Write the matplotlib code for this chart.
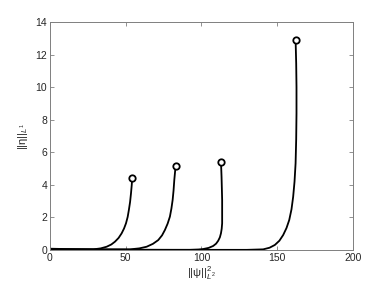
import matplotlib
matplotlib.use("Agg")
import matplotlib.pyplot as plt

plt.rcParams['font.family'] = ['Liberation Sans', 'DejaVu Sans']
plt.rcParams['mathtext.fontset'] = 'custom'
plt.rcParams['mathtext.rm'] = 'Liberation Sans'
plt.rcParams['mathtext.it'] = 'Liberation Sans:italic'

# curve data: (||psi||^2, ||eta||_L1)
c1_x = [0, 10, 20, 28.6, 33.5, 37.4, 40.5, 42.9, 45.3, 47.3, 48.9, 50.2, 51.3, 52.1, 52.9, 53.5, 54.0, 54.3]
c1_y = [0.08, 0.06, 0.05, 0.04, 0.1, 0.2, 0.34, 0.51, 0.74, 1.02, 1.32, 1.64, 2.03, 2.46, 2.95, 3.48, 4.0, 4.44]
c2_x = [0, 20, 40, 52.8, 59.0, 63.8, 68.0, 71.5, 74.0, 75.9, 77.7, 79.2, 80.2, 81.0, 81.6, 82.1, 82.6, 83.0]
c2_y = [0.05, 0.04, 0.04, 0.04, 0.1, 0.2, 0.38, 0.61, 0.9, 1.23, 1.62, 2.05, 2.55, 3.07, 3.65, 4.3, 4.8, 5.18]
c3_x = [0, 40, 80, 92.4, 98.0, 101.2, 104.8, 107.8, 109.7, 111.1, 112.2, 112.9, 113.4, 113.7, 113.7, 113.5, 113.3, 113.1, 112.9]
c3_y = [0.03, 0.02, 0.01, 0.01, 0.03, 0.06, 0.13, 0.25, 0.39, 0.57, 0.78, 1.02, 1.3, 1.64, 3.07, 3.8, 4.5, 5.0, 5.42]
c4_x = [0, 60, 110, 130, 140.8, 145.0, 148.5, 151.5, 154.0, 156.2, 158.0, 159.5, 160.6, 161.5, 162.2, 162.6, 162.8, 162.8, 162.6, 162.2]
c4_y = [0.02, 0.01, 0.01, 0.01, 0.04, 0.14, 0.31, 0.57, 0.92, 1.35, 1.84, 2.5, 3.27, 4.2, 5.32, 6.8, 8.39, 10.0, 11.46, 12.9]
curves = [(c1_x, c1_y), (c2_x, c2_y), (c3_x, c3_y), (c4_x, c4_y)]

xticks = [0, 50, 100, 150, 200]
yticks = [0, 2, 4, 6, 8, 10, 12, 14]

fig = plt.figure(figsize=(3.89, 2.92), dpi=100)
ax = fig.add_axes([0.1285, 0.1438, 0.7785, 0.781])
for xs, ys in curves:
    ax.plot(xs, ys, color='black', lw=1.3, solid_capstyle='round', solid_joinstyle='round')
    ax.plot(xs[-1], ys[-1], marker='o', ms=4.6, mfc='white', mec='black', mew=1.3)

ax.set_xlim(0, 200)
ax.set_ylim(0, 14)
ax.set_xticks(xticks)
ax.set_yticks(yticks)
for s in ax.spines.values():
    s.set_color('#7f7f7f')
    s.set_linewidth(0.7)
ax.tick_params(direction='in', top=True, right=True, length=3, width=0.6,
               color='#7f7f7f', labelsize=7.5, labelcolor='#262626', pad=2)
ax.set_xlabel(r'$||\mathrm{ψ}||^2_{L^2}$', fontsize=8, color='#262626', labelpad=1)
ax.set_ylabel(r'$||\mathrm{η}||_{L^1}$', fontsize=8, color='#262626', labelpad=4)
fig.savefig('out.png', dpi=100)
